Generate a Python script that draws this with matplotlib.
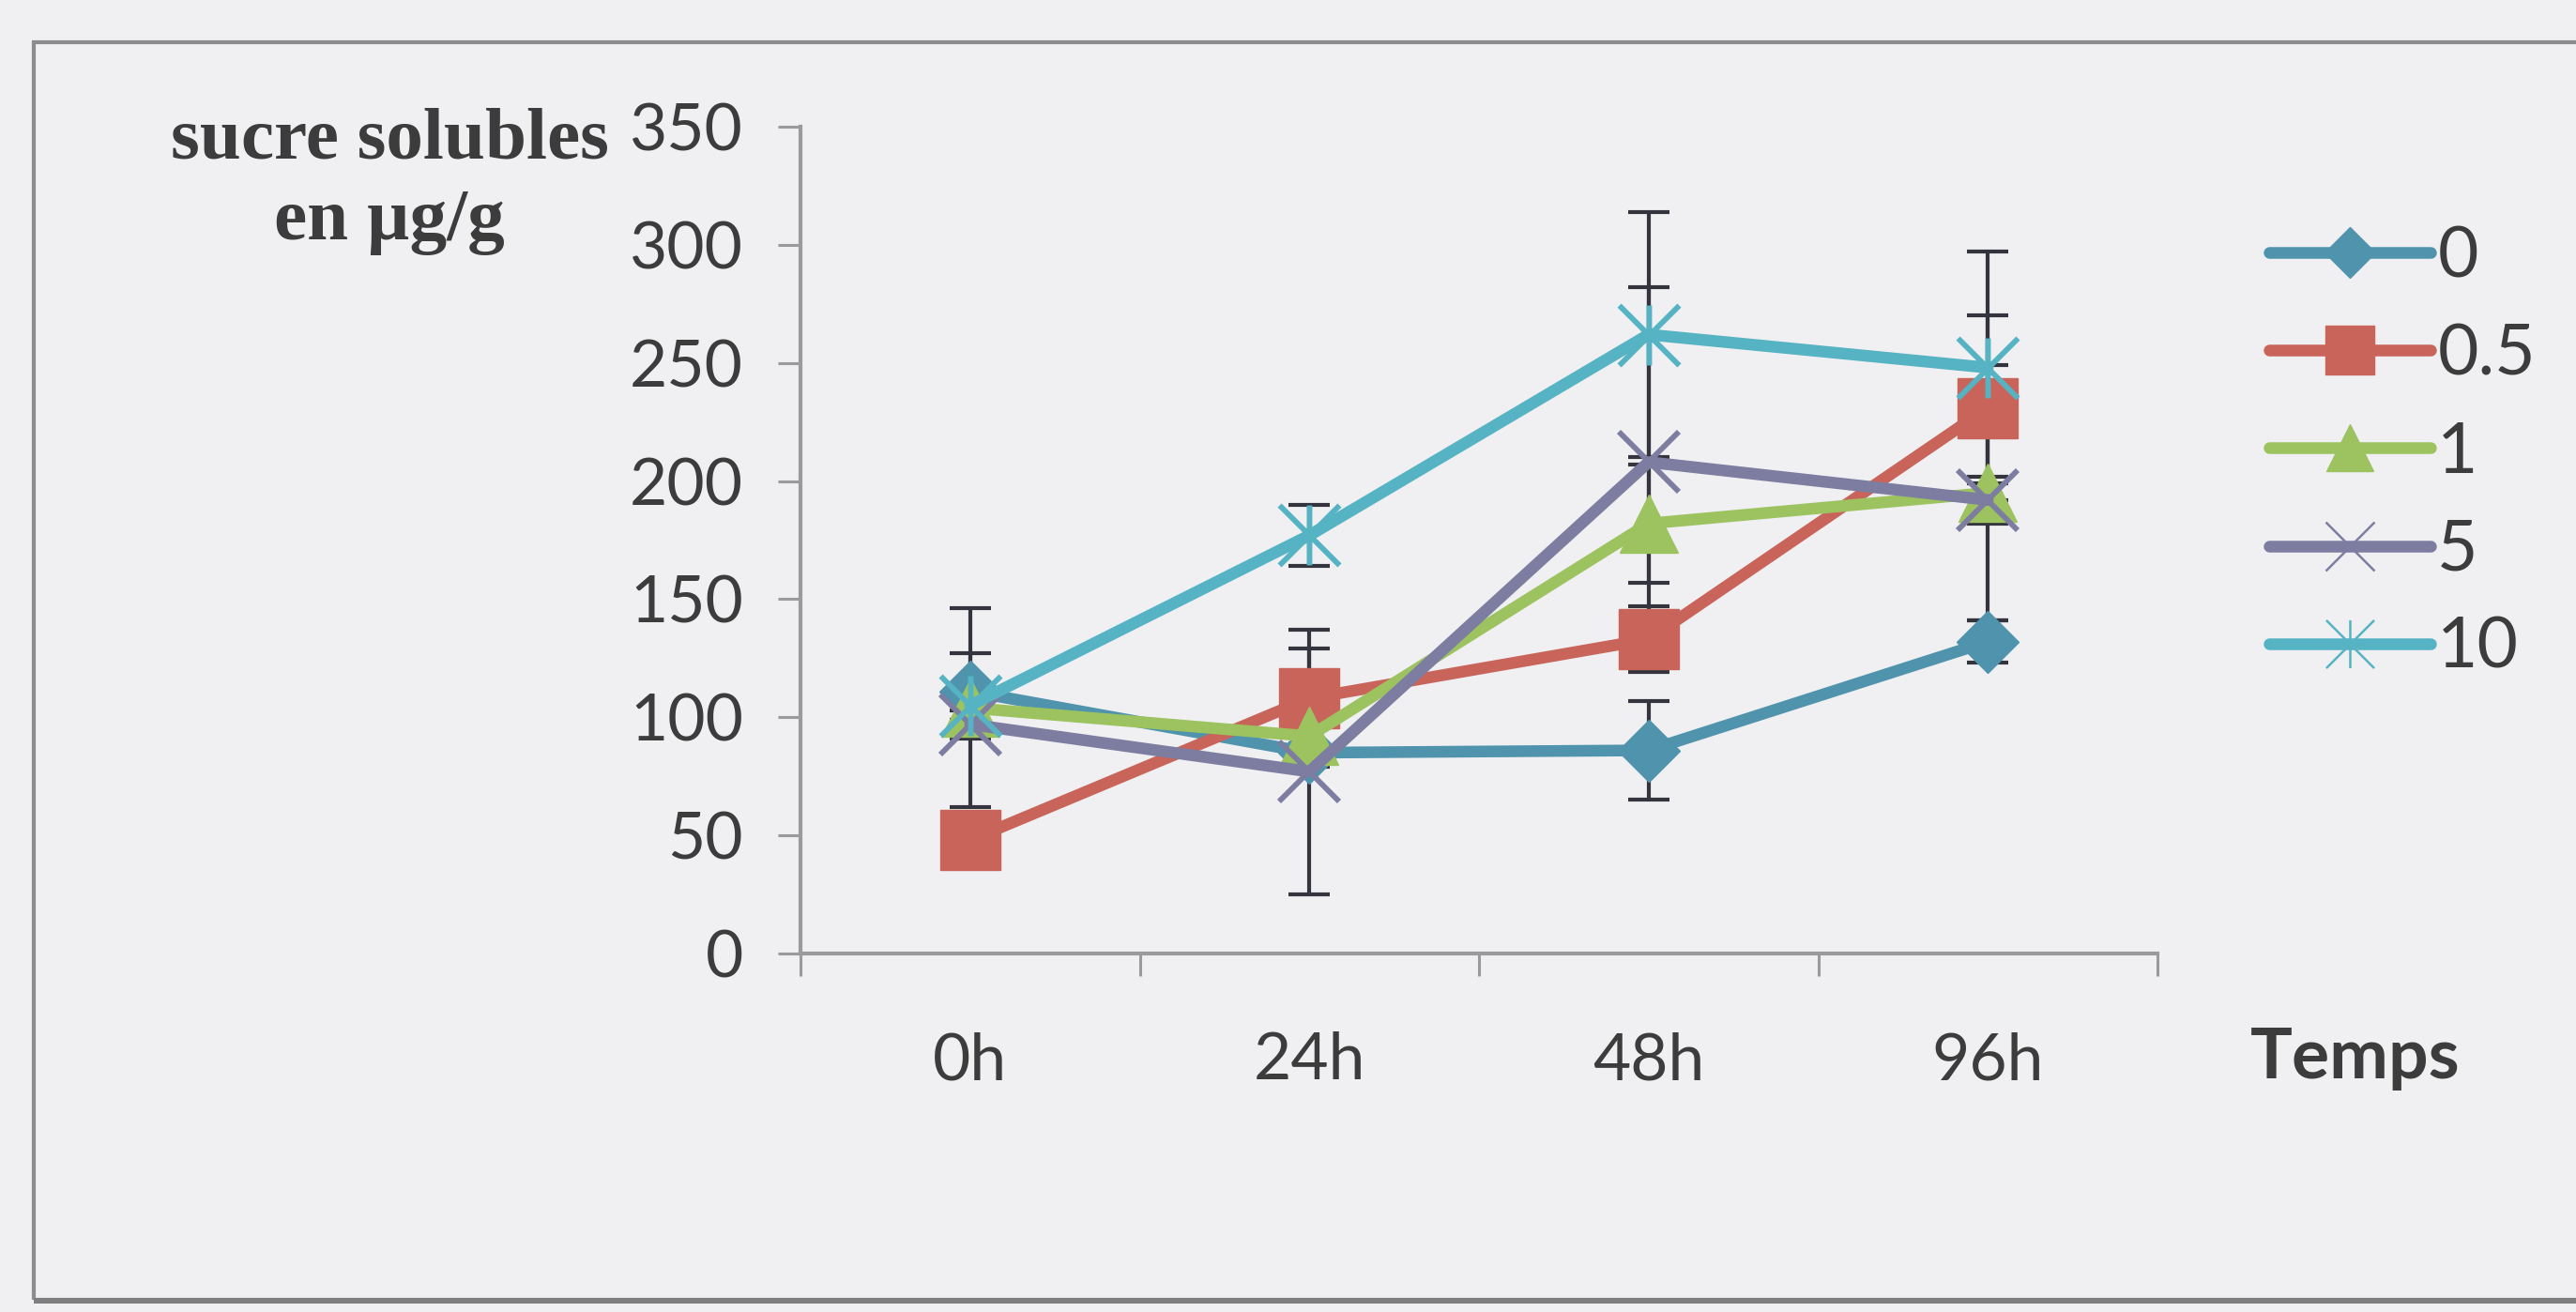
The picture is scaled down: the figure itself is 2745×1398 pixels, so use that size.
import matplotlib
matplotlib.use("Agg")
import matplotlib.pyplot as plt
from matplotlib.path import Path
from matplotlib.patches import Rectangle
from matplotlib.lines import Line2D

# Sampling times and soluble sugar content (µg/g) per treatment
temps = ["0h", "24h", "48h", "96h"]
doses = ["0", "0.5", "1", "5", "10"]

sucre_0 = [111, 85, 86, 132]
sucre_05 = [48, 108, 133, 231]
sucre_1 = [104, 92, 182, 195]
sucre_5 = [97, 77, 208, 192]
sucre_10 = [105, 177, 262, 248]

err_0 = [16, 4, 21, 9]
err_05 = [5, 29, 14, 39]
err_1 = [42, 6, 25, 54]
err_5 = [6, 52, 74, 10]
err_10 = [6, 13, 52, 49]

y_ticks = [0, 50, 100, 150, 200, 250, 300, 350]

series = [sucre_0, sucre_05, sucre_1, sucre_5, sucre_10]
errors = [err_0, err_05, err_1, err_5, err_10]

# Asterisk marker: vertical bar plus a cross
star_path = Path(
    [(0, -0.5), (0, 0.5), (-0.5, -0.5), (0.5, 0.5), (-0.5, 0.5), (0.5, -0.5)],
    [Path.MOVETO, Path.LINETO, Path.MOVETO, Path.LINETO, Path.MOVETO, Path.LINETO],
)

colors = ["#4F93AD", "#C8645A", "#9CC35F", "#7C7DA0", "#55B3C3"]
styles = [
    dict(marker="D", markersize=34, mew=1, filled=True),
    dict(marker="s", markersize=46, mew=1, filled=True),
    dict(marker="^", markersize=45, mew=1, filled=True),
    dict(marker="x", markersize=46, mew=4.2, filled=False),
    dict(marker=star_path, markersize=46, mew=4.2, filled=False),
]

bg = "#F0F0F2"
axis_gray = "#9A9A9A"
text_gray = "#3C3C3C"

W, H = 2745, 1398
fig = plt.figure(figsize=(W / 100, H / 100), dpi=100, facecolor=bg)

# Outer chart frame
fig.patches.append(Rectangle((36 / W, 1 - 1385 / H), (W + 40 - 36) / W, (1385 - 45) / H,
                             transform=fig.transFigure, fill=False,
                             edgecolor="#8C8C8C", linewidth=3.0))
fig.patches.append(Rectangle((36 / W, 1 - 1389 / H), (W + 40 - 36) / W, 6 / H,
                             transform=fig.transFigure, facecolor="#7E7E7E",
                             edgecolor="none"))

ax_left, ax_right = 853, 2299
ax_top, ax_bottom = 135, 1016
ax = fig.add_axes([ax_left / W, 1 - ax_bottom / H, (ax_right - ax_left) / W,
                   (ax_bottom - ax_top) / H])
ax.set_facecolor("none")

x = list(range(len(temps)))

# Error bars (under the markers)
for vals, errs in zip(series, errors):
    ax.errorbar(x, vals, yerr=errs, fmt="none", ecolor="#34343E",
                elinewidth=3.0, capsize=16, capthick=3.0, zorder=2)

handles = []
for i, (vals, col, st) in enumerate(zip(series, colors, styles)):
    kw = dict(color=col, linewidth=9.0, marker=st["marker"],
              markersize=st["markersize"], markeredgewidth=st["mew"],
              markeredgecolor=col, solid_joinstyle="round", solid_capstyle="round")
    if st["filled"]:
        kw["markerfacecolor"] = col
    ax.plot(x, vals, zorder=3 + i, **kw)
    lk = dict(kw)
    if not st["filled"]:
        lk["markeredgewidth"] = 1.8
    handles.append(Line2D([], [], **lk))

ax.set_xlim(-0.5, 3.5)
ax.set_ylim(0, 350)
ax.set_yticks(y_ticks)
ax.set_yticklabels([str(v) for v in y_ticks])
ax.set_xticks([-0.5, 0.5, 1.5, 2.5, 3.5])
ax.set_xticklabels([])
ax.set_xticks(x, minor=True)
ax.set_xticklabels(temps, minor=True)

for s in ["top", "right"]:
    ax.spines[s].set_visible(False)
for s in ["left", "bottom"]:
    ax.spines[s].set_color(axis_gray)
    ax.spines[s].set_linewidth(3.0)

ax.tick_params(axis="y", which="major", length=17, width=2.2, color=axis_gray,
               pad=27, labelcolor=text_gray, labelsize=50)
ax.tick_params(axis="x", which="major", length=17, width=2.2, color=axis_gray)
ax.tick_params(axis="x", which="minor", length=0, pad=60, labelcolor=text_gray,
               labelsize=50)
for lab in ax.get_yticklabels() + ax.get_xticklabels(minor=True):
    lab.set_fontfamily("Lato")

# Axis titles (baseline of the last line is anchored)
fig.text(415 / W, 1 - 255 / H, "sucre solubles\nen µg/g", ha="center", va="baseline",
         family="Liberation Serif", fontweight="bold", fontsize=57, color=text_gray,
         linespacing=1.28)
fig.text(2510 / W, 1 - 1128 / H, "Temps", ha="center", va="center",
         family="Lato", fontweight="bold", fontsize=54, color=text_gray)

leg = fig.legend(handles, doses, loc="upper left",
                 bbox_to_anchor=(2418 / W, 1 - 239 / H),
                 frameon=False, prop=dict(family="Lato", size=54),
                 handlelength=2.29, handletextpad=0.1, labelspacing=0.47,
                 borderpad=0, borderaxespad=0, markerscale=0.8)
for t in leg.get_texts():
    t.set_color(text_gray)

fig.savefig("out.png", dpi=100, facecolor=bg)
